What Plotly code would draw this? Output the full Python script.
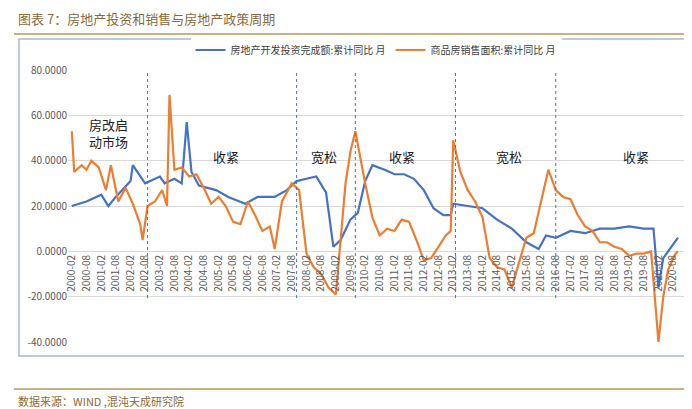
import plotly.graph_objects as go

inv_dates = ["2000-02","2000-08","2001-02","2001-05","2001-08","2002-02","2002-03","2002-08","2003-02","2003-04","2003-08","2003-11","2004-01","2004-03","2004-06","2005-01","2005-06","2006-01","2006-06","2007-01","2007-06","2007-10","2008-02","2008-06","2008-10","2009-01","2009-04","2009-08","2009-11","2010-02","2010-05","2010-10","2011-02","2011-06","2011-10","2012-02","2012-06","2012-10","2013-01","2013-02","2013-08","2014-02","2014-08","2015-02","2015-08","2016-01","2016-04","2016-08","2017-02","2017-08","2018-02","2018-08","2019-02","2019-08","2019-12","2020-02","2020-04","2020-08","2020-10"]
inv_vals = [20,22,25,20,24,31,38,30,33,30,32,30,57,35,29,27,24,21,24,24,27,31,32,33,26,2,5,14,17,31,38,36,34,34,32,27,19,16,16,21,20,19,14,10,4,1,7,6,9,8,10,10,11,10,10,-16,-3,3,6]

sal_dates = ["2000-02","2000-03","2000-06","2000-08","2000-10","2001-01","2001-04","2001-06","2001-09","2001-12","2002-03","2002-06","2002-07","2002-09","2002-12","2003-03","2003-05","2003-06","2003-08","2003-11","2004-02","2004-05","2004-08","2004-11","2005-02","2005-05","2005-08","2005-11","2006-02","2006-05","2006-08","2006-11","2007-01","2007-04","2007-08","2007-11","2008-02","2008-05","2008-08","2008-11","2009-02","2009-04","2009-06","2009-08","2009-10","2010-02","2010-05","2010-08","2010-11","2011-02","2011-05","2011-08","2011-11","2012-02","2012-05","2012-08","2012-11","2013-01","2013-02","2013-05","2013-08","2013-11","2014-02","2014-05","2014-08","2014-11","2015-02","2015-05","2015-08","2015-11","2016-02","2016-05","2016-08","2016-11","2017-02","2017-05","2017-08","2017-11","2018-02","2018-05","2018-08","2018-11","2019-02","2019-05","2019-08","2019-11","2020-02","2020-04","2020-06","2020-09","2020-10"]
sal_vals = [53,35,38,36,40,37,27,38,22,28,21,12,5,20,22,27,20,69,36,37,33,34,28,21,24,20,13,12,22,16,9,11,1,22,30,27,-1,-7,-10,-16,-19,4,30,44,53,30,15,7,10,9,14,13,5,-4,-3,2,7,9,49,35,27,22,15,-3,-7,-8,-16,-5,6,8,22,36,27,24,23,16,11,9,4,4,2,1,-2,-1,-1,0,-40,-20,-8,-1,0]

tick_labels = [f"{y}-{m}" for y in range(2000, 2021) for m in ("02", "08")]
tick_vals = [l + "-01" for l in tick_labels]
dividers = ["2002-09", "2007-10", "2009-10", "2013-03", "2016-08"]
phase_labels = ["房改启<br>动市场", "收紧", "宽松", "收紧", "宽松", "收紧"]
phase_x = ["2001-05", "2005-05", "2008-09", "2011-05", "2015-01", "2019-05"]
phase_y = [52, 42, 42, 42, 42, 42]

def py(p):
    return (334 - p) / 272
def px(p):
    return (p - 60) / 616

fig = go.Figure()
fig.add_trace(go.Scatter(x=[d + "-01" for d in inv_dates], y=inv_vals, mode="lines",
                         line=dict(color="#4472C4", width=2.2), name="房地产开发投资完成额:累计同比 月"))
fig.add_trace(go.Scatter(x=[d + "-01" for d in sal_dates], y=sal_vals, mode="lines",
                         line=dict(color="#ED7D31", width=2.2), name="商品房销售面积:累计同比 月"))

for d in dividers:
    fig.add_shape(type="line", xref="x", yref="paper", x0=d + "-01", x1=d + "-01", y0=py(290), y1=1.0,
                  line=dict(color="#4472C4", width=1, dash="dot"))
for t, x, y in zip(phase_labels, phase_x, phase_y):
    fig.add_annotation(x=x + "-01", y=y, text=t, showarrow=False, font=dict(size=13, color="#222"))

fig.add_annotation(xref="paper", yref="paper", x=px(8), y=py(10), xanchor="left", yanchor="middle",
                   text="图表 7：房地产投资和销售与房地产政策周期", showarrow=False,
                   font=dict(size=13, color="#8B6A3A", family="Noto Sans CJK SC"))
fig.add_annotation(xref="paper", yref="paper", x=px(8), y=py(393), xanchor="left", yanchor="middle",
                   text="数据来源：WIND ,混沌天成研究院", showarrow=False,
                   font=dict(size=11, color="#8B6A3A", family="Noto Sans CJK SC"))
fig.add_shape(type="line", xref="paper", yref="paper", x0=px(6), x1=px(688), y0=py(26), y1=py(26),
              line=dict(color="#B8975A", width=1.5))
fig.add_shape(type="line", xref="paper", yref="paper", x0=px(6), x1=px(688), y0=py(381), y1=py(381),
              line=dict(color="#B8975A", width=1.5))
fig.add_shape(type="rect", xref="paper", yref="paper", x0=px(11), x1=px(684), y0=py(348), y1=py(31),
              line=dict(color="#A9B9D0", width=1.5))

fig.update_layout(
    width=692, height=409, margin=dict(l=60, r=16, t=62, b=75, autoexpand=False),
    paper_bgcolor="white", plot_bgcolor="white", showlegend=True,
    font=dict(family="Noto Sans CJK SC", size=10, color="#595959"),
    legend=dict(orientation="h", x=0.5, xanchor="center", y=py(42), yanchor="middle",
                font=dict(size=10, color="#404040")),
    xaxis=dict(type="date", range=["1999-12-15", "2020-12-15"], tickvals=tick_vals, ticktext=tick_labels,
               tickangle=-90, showgrid=False, zeroline=False, showline=False, ticks="",
               anchor="free", position=py(244), automargin=False,
               tickfont=dict(size=10, color="#595959")),
    yaxis=dict(range=[-40, 80], tickvals=[-40, -20, 0, 20, 40, 60, 80],
               ticktext=["-40.0000", "-20.0000", "0.0000", "20.0000", "40.0000", "60.0000", "80.0000"],
               showgrid=True, gridcolor="#D9D9D9", zeroline=False, automargin=False,
               tickfont=dict(size=10, color="#595959")),
)
fig.write_html("out.html")
